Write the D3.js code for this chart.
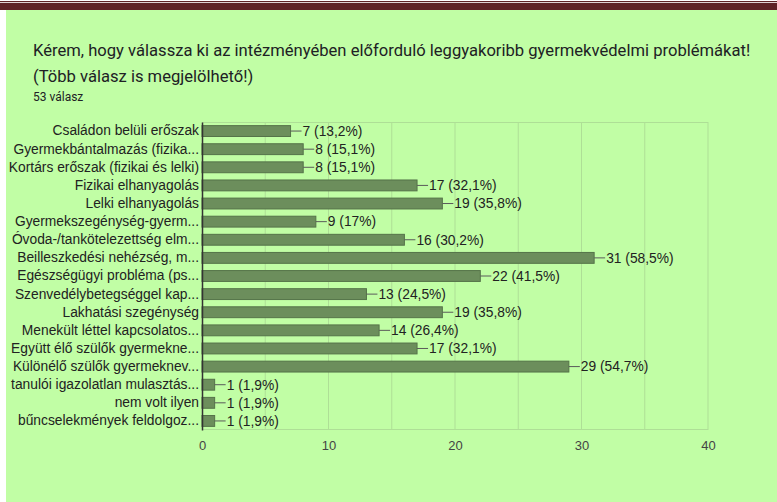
<!DOCTYPE html>
<html>
<head>
<meta charset="utf-8">
<script src="https://cdn.jsdelivr.net/npm/d3@7"></script>
<style>
  html, body { margin: 0; padding: 0; background: #fff; }
  svg { display: block; }
</style>
</head>
<body>
<svg id="chart" width="777" height="502"></svg>
<script>
var categories = [
    "Családon belüli erőszak",
    "Gyermekbántalmazás (fizika...",
    "Kortárs erőszak (fizikai és lelki)",
    "Fizikai elhanyagolás",
    "Lelki elhanyagolás",
    "Gyermekszegénység-gyerm...",
    "Óvoda-/tankötelezettség elm...",
    "Beilleszkedési nehézség, m...",
    "Egészségügyi probléma (ps...",
    "Szenvedélybetegséggel kap...",
    "Lakhatási szegénység",
    "Menekült léttel kapcsolatos...",
    "Együtt élő szülők gyermekne...",
    "Különélő szülők gyermeknev...",
    "tanulói igazolatlan mulasztás...",
    "nem volt ilyen",
    "bűncselekmények feldolgoz..."
];
var counts = [7, 8, 8, 17, 19, 9, 16, 31, 22, 13, 19, 14, 17, 29, 1, 1, 1];
var percents = ["13,2%", "15,1%", "15,1%", "32,1%", "35,8%", "17%", "30,2%", "58,5%", "41,5%",
    "24,5%", "35,8%", "26,4%", "32,1%", "54,7%", "1,9%", "1,9%", "1,9%"];
var xTicks = [0, 10, 20, 30, 40];
var gridValues = [5, 10, 15, 20, 25, 30, 35, 40];

var titleLines = [
    "Kérem, hogy válassza ki az intézményében előforduló leggyakoribb gyermekvédelmi problémákat!",
    "(Több válasz is megjelölhető!)"
];
var subtitle = "53 válasz";

(function () {
    var svg = d3.select('#chart');
    var labelFont = 'Arial, "Liberation Sans", sans-serif';

    // page frame: maroon band on top, green card
    svg.append('rect').attr('x', 0).attr('y', 1).attr('width', 777).attr('height', 1.2).attr('fill', '#5e2326');
    svg.append('rect').attr('x', 0).attr('y', 3).attr('width', 777).attr('height', 7).attr('fill', '#5e2326');
    svg.append('rect').attr('x', 6).attr('y', 10).attr('width', 771).attr('height', 492).attr('fill', '#c1fea5');

    svg.selectAll('text.title')
        .data(titleLines)
        .enter()
        .append('text')
        .attr('class', 'title')
        .attr('x', 33)
        .attr('y', function (d, i) { return 56 + i * 26; })
        .style('font-family', 'Roboto, sans-serif')
        .style('font-size', '16.6px')
        .attr('fill', '#202124')
        .text(function (d) { return d; });

    svg.append('text')
        .attr('x', 33)
        .attr('y', 101)
        .style('font-family', 'Roboto, sans-serif')
        .style('font-size', '12px')
        .attr('fill', '#202124')
        .text(subtitle);

    var plotLeft = 202, plotRight = 708, plotTop = 122, plotBottom = 430;

    var xScale = d3.scaleLinear()
        .domain([0, 40])
        .range([plotLeft, plotRight]);

    var yScale = d3.scaleBand()
        .domain(categories)
        .range([plotTop, plotBottom])
        .paddingInner(0.4)
        .paddingOuter(0.2);

    // grid
    svg.append('g')
        .selectAll('line')
        .data(gridValues)
        .enter()
        .append('line')
        .attr('x1', function (d) { return xScale(d); })
        .attr('x2', function (d) { return xScale(d); })
        .attr('y1', plotTop)
        .attr('y2', plotBottom)
        .attr('stroke', '#aedf96')
        .attr('stroke-width', 1);

    svg.append('line')
        .attr('x1', plotLeft).attr('x2', plotRight)
        .attr('y1', plotTop + 0.5).attr('y2', plotTop + 0.5)
        .attr('stroke', '#aedf96');
    svg.append('line')
        .attr('x1', plotLeft).attr('x2', plotRight)
        .attr('y1', plotBottom - 0.5).attr('y2', plotBottom - 0.5)
        .attr('stroke', '#aedf96');

    // bars
    svg.append('g')
        .selectAll('rect')
        .data(counts)
        .enter()
        .append('rect')
        .attr('x', xScale(0))
        .attr('y', function (d, i) { return yScale(categories[i]); })
        .attr('width', function (d) { return xScale(d) - xScale(0); })
        .attr('height', yScale.bandwidth())
        .attr('fill', '#6c8e5c')
        .attr('stroke', '#557349')
        .attr('stroke-width', 1);

    // leader lines + value labels
    var labels = svg.append('g');
    counts.forEach(function (d, i) {
        var cy = yScale(categories[i]) + yScale.bandwidth() / 2;
        labels.append('line')
            .attr('x1', xScale(d)).attr('x2', xScale(d) + 11)
            .attr('y1', cy).attr('y2', cy)
            .attr('stroke', '#5a5a5a')
            .attr('stroke-width', 1);
        labels.append('text')
            .attr('x', xScale(d) + 12)
            .attr('y', cy)
            .attr('dy', '0.35em')
            .style('font-family', labelFont)
            .style('font-size', '13.8px')
            .attr('fill', '#222')
            .text(d + ' (' + percents[i] + ')');
    });

    // category axis
    var yAxis = svg.append('g')
        .attr('transform', 'translate(' + plotLeft + ',0)')
        .call(d3.axisLeft(yScale).tickSize(0).tickPadding(3));
    yAxis.select('.domain').attr('stroke', '#333').attr('stroke-width', 1.5);
    yAxis.selectAll('text')
        .style('font-family', labelFont)
        .style('font-size', '13.8px')
        .attr('fill', '#222');

    // value axis
    var xAxis = svg.append('g')
        .attr('transform', 'translate(0,' + (plotBottom + 9) + ')')
        .call(d3.axisBottom(xScale).tickValues(xTicks).tickSize(0).tickPadding(2));
    xAxis.select('.domain').remove();
    xAxis.selectAll('text')
        .style('font-family', labelFont)
        .style('font-size', '13px')
        .attr('fill', '#444');
})();
</script>
</body>
</html>
